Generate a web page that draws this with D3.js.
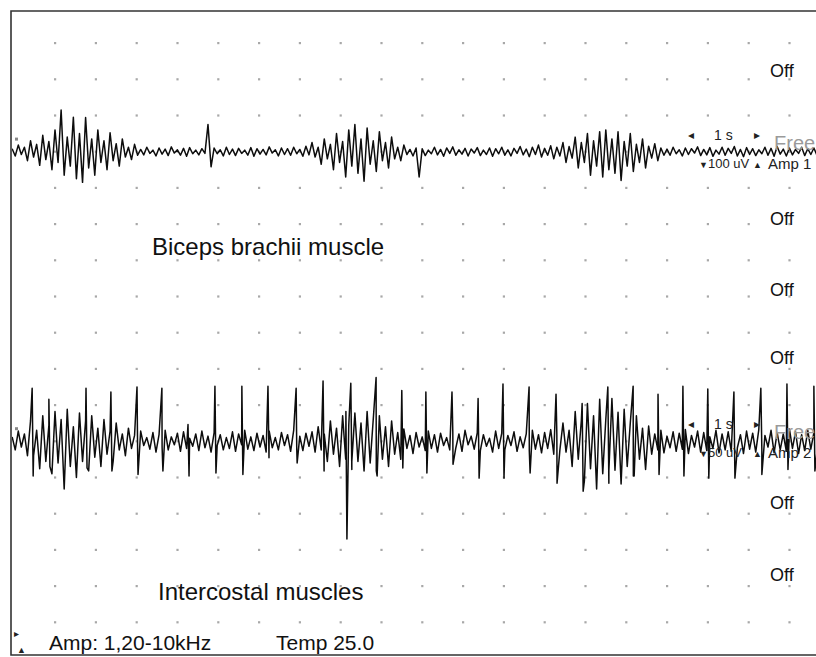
<!DOCTYPE html>
<html>
<head>
<meta charset="utf-8">
<script src="https://cdn.jsdelivr.net/npm/d3@7"></script>
<style>
  body { margin: 0; background: #fff; }
  svg { display: block; font-family: "Liberation Sans", Arial, sans-serif; }
</style>
</head>
<body>
<div id="chart"></div>
<script>
// envelope arrays: one max and one min per bin, first bin at binStart (s)
const binStart = -0.05;
const binStep = 0.15;

// Biceps brachii channel, uV (100 uV/div)
const bicepsHigh = [8, 18, 12, 30, 20, 45, 28, 60, 115, 40, 95, 50, 94, 35, 60, 30, 52, 22, 35, 12, 20,
  6, 12, 4, 10, 7, 13, 5, 9, 11, 4, 8, 75,
  10, 5, 12, 7, 9, 4, 11, 8, 6, 13, 5, 10, 8, 12, 6, 15,
  25, 12, 35, 20, 50, 28, 60, 75, 35, 65, 30, 55, 25, 40, 12, 18, 6, 10,
  8, 4, 12, 6, 10, 13, 5, 9, 7, 11, 4, 10, 8, 12, 5, 9, 14, 7, 12, 18, 9, 16, 12,
  25, 14, 40, 25, 50, 30, 55, 60, 35, 55, 28, 50, 20, 35, 15, 22, 10,
  7, 12, 5, 10, 8, 13, 6, 11, 4, 12, 9, 14, 6, 11, 8, 5, 12, 9, 14, 7, 10, 6, 12, 8, 10];
const bicepsLow = [-12, -8, -25, -15, -38, -22, -50, -30, -65, -40, -75, -85, -45, -65, -30, -50, -25, -40, -15, -22, -10,
  -9, -5, -12, -7, -11, -4, -10, -13, -6, -9, -5, -42,
  -6, -12, -8, -11, -5, -10, -13, -7, -9, -4, -12, -8, -10, -6, -13, -9,
  -15, -35, -20, -50, -30, -70, -40, -60, -82, -35, -55, -25, -45, -20, -25, -8, -12, -70,
  -11, -6, -9, -13, -5, -10, -7, -12, -4, -11, -8, -13, -6, -10, -12, -5, -9, -14, -8, -15, -10, -20, -12,
  -30, -18, -45, -30, -65, -40, -70, -50, -60, -80, -40, -55, -30, -45, -18, -25, -10,
  -10, -6, -12, -8, -4, -11, -9, -13, -7, -10, -5, -12, -14, -8, -11, -6, -10, -13, -7, -12, -9, -5, -11, -8, -10];

// Intercostal channel, uV (50 uV/div)
const intercostalHigh = [6, 14, 10,
  28, 15, 35, 22, 41, 30, 44, 20, 39, 28, 35, 18, 30, 14, 25, 10, 18,
  8, 14, 5, 12, 9, 15, 6, 11, 13, 4, 10, 14, 7, 12, 9, 5, 13, 10, 15, 6, 11, 8, 14, 5, 12, 9, 15, 7, 11, 13,
  20, 10, 28, 18, 35, 22, 39, 25, 41, 30, 35, 20, 28, 12, 17, 8,
  12, 6, 14, 9, 11, 5, 13, 10, 15, 7, 12, 9, 4, 14, 11, 8, 13, 6, 10, 15, 9, 12, 16, 10,
  25, 15, 41, 28, 52, 35, 58, 30, 59, 40, 44, 25, 35, 18, 21,
  10, 15, 7, 13, 11, 16, 8, 14, 12, 6, 15, 10, 13, 17, 9, 14, 11, 16, 8, 15, 12, 10, 17, 13, 9, 15, 12];
const intercostalLow = [-12, -8, -20,
  -20, -38, -28, -45, -30, -66, -35, -50, -28, -41, -22, -35, -18, -28, -12, -20, -10,
  -13, -6, -11, -15, -8, -12, -5, -14, -10, -7, -13, -9, -15, -6, -12, -10, -14, -5, -11, -13, -8, -15, -9, -12, -6, -14, -10, -13, -7, -15,
  -12, -28, -18, -35, -25, -39, -28, -41, -30, -41, -25, -35, -18, -25, -10, -17,
  -8, -13, -10, -15, -6, -12, -9, -14, -5, -11, -13, -7, -15, -10, -12, -6, -14, -9, -13, -11, -16, -10, -18, -12,
  -15, -35, -25, -55, -38, -66, -45, -58, -40, -59, -35, -48, -25, -39, -18,
  -12, -16, -9, -14, -11, -17, -8, -15, -13, -10, -16, -12, -14, -9, -17, -11, -15, -13, -8, -16, -12, -14, -10, -17, -13, -11, -15];

// heart beat artefacts on the intercostal channel
const ecgTimes = [0.44, 0.85, 1.76, 2.37, 3.01, 3.62, 4.26, 4.92, 5.58, 6.22, 6.91, 7.57, 8.13, 8.25, 8.87, 9.50,
  10.09, 10.73, 11.37, 11.98, 12.62, 13.28, 13.92, 14.55, 15.17, 15.78, 16.39, 17.00, 17.64, 18.30, 18.94, 19.60];
const ecgUp = [73, 58, 73, 68, 75, 73, 23, 76, 76, 76, 73, 83, 41, 80, 88, 70,
  68, 68, 59, 79, 75, 65, 52, 75, 76, 65, 76, 72, 68, 73, 79, 76];
const ecgDown = [-48, -35, -37, -41, -46, -41, -48, -44, -46, -23, -30, -41, -135, -28, -48, -37,
  -44, -32, -51, -51, -44, -58, -69, -41, -48, -46, -48, -51, -51, -46, -39, -41];

// grid: 1 s per column, 16 rows
const gridSeconds = d3.range(1, 20);
const gridRows = d3.range(0, 17);

// channel slots that are switched off (row position of label)
const offRows = [0.77, 4.86, 6.82, 8.7, 12.7, 14.7];

const width = 816;
const height = 657;

const svg = d3.select("#chart").append("svg")
    .attr("width", width)
    .attr("height", height);

const x = d3.scaleLinear().domain([0, 19]).range([14.2, 789.4]);
const row = d3.scaleLinear().domain([0, 16]).range([43, 622.2]);
const y1 = d3.scaleLinear().domain([-100, 100]).range([row(4), row(2)]);
const y2 = d3.scaleLinear().domain([-50, 50]).range([row(12), row(10)]);

svg.append("clipPath").attr("id", "screen")
  .append("rect").attr("x", 12).attr("y", 12).attr("width", width - 12).attr("height", 642);

// grid dots
const dots = [];
gridSeconds.forEach(s => gridRows.forEach(r => dots.push([s, r])));
svg.append("g").selectAll("rect")
  .data(dots)
  .enter().append("rect")
    .attr("x", d => x(d[0]) - 1)
    .attr("y", d => row(d[1]) - 1)
    .attr("width", 2.2)
    .attr("height", 2.2)
    .attr("fill", "#a8a8a8");

// frame
svg.append("path")
    .attr("d", `M${width},11 H11 V655 H${width}`)
    .attr("fill", "none")
    .attr("stroke", "#333")
    .attr("stroke-width", 1.6);

function tracePoints(high, low, spikes) {
  let pts = [];
  high.forEach((h, i) => {
    const t = binStart + i * binStep;
    pts.push([t, h]);
    pts.push([t + binStep / 2, low[i]]);
  });
  if (spikes) {
    spikes.forEach(s => {
      pts.push([s.t, s.up]);
      pts.push([s.t + 0.025, s.down]);
    });
    pts.sort((a, b) => a[0] - b[0]);
  }
  return pts;
}

const spikes = ecgTimes.map((t, i) => ({t: t, up: ecgUp[i], down: ecgDown[i]}));

const traces = svg.append("g").attr("clip-path", "url(#screen)");

traces.append("path")
    .datum(tracePoints(bicepsHigh, bicepsLow))
    .attr("fill", "none")
    .attr("stroke", "#0d0d0d")
    .attr("stroke-width", 1.5)
    .attr("stroke-linejoin", "round")
    .attr("d", d3.line().x(d => x(d[0])).y(d => y1(d[1])));

traces.append("path")
    .datum(tracePoints(intercostalHigh, intercostalLow, spikes))
    .attr("fill", "none")
    .attr("stroke", "#0d0d0d")
    .attr("stroke-width", 1.5)
    .attr("stroke-linejoin", "round")
    .attr("d", d3.line().x(d => x(d[0])).y(d => y2(d[1])));

// channel ground markers
[3, 11].forEach(r => {
  svg.append("rect")
    .attr("x", 15).attr("y", row(r) - 14)
    .attr("width", 3).attr("height", 3)
    .attr("fill", "#888");
});

// Off labels
svg.append("g").selectAll("text")
  .data(offRows)
  .enter().append("text")
    .attr("x", 770)
    .attr("y", d => row(d) + 6)
    .attr("font-size", 18)
    .attr("fill", "#111")
    .text("Off");

// channel settings next to each active trace
function channelInfo(baseRow, scaleText, ampText) {
  const yb = row(baseRow);
  const g = svg.append("g");
  g.append("text").attr("x", 688).attr("y", yb - 13).attr("font-size", 12).attr("fill", "#222").text("\u25C2");
  g.append("text").attr("x", 714).attr("y", yb - 12).attr("font-size", 14).attr("fill", "#222").text("1 s");
  g.append("text").attr("x", 754).attr("y", yb - 13).attr("font-size", 12).attr("fill", "#222").text("\u25B8");
  g.append("text").attr("x", 774).attr("y", yb - 2).attr("font-size", 20).attr("fill", "#9a9a9a").text("Free");
  g.append("text").attr("x", 699).attr("y", yb + 16).attr("font-size", 9).attr("fill", "#222").text("\u25BC");
  g.append("text").attr("x", 708).attr("y", yb + 16).attr("font-size", 13).attr("fill", "#222").text(scaleText);
  g.append("text").attr("x", 753).attr("y", yb + 16).attr("font-size", 9).attr("fill", "#222").text("\u25B2");
  g.append("text").attr("x", 768).attr("y", yb + 17).attr("font-size", 15).attr("fill", "#222").text(ampText);
}
channelInfo(3, "100 uV", "Amp 1");
channelInfo(11, "50 uV", "Amp 2");

// muscle names
svg.append("text").attr("x", 152).attr("y", 255).attr("font-size", 24).attr("fill", "#111")
  .text("Biceps brachii muscle");
svg.append("text").attr("x", 158).attr("y", 600).attr("font-size", 24).attr("fill", "#111")
  .text("Intercostal muscles");

// footer
svg.append("text").attr("x", 49).attr("y", 650).attr("font-size", 21).attr("fill", "#111")
  .text("Amp: 1,20-10kHz");
svg.append("text").attr("x", 276).attr("y", 650).attr("font-size", 21).attr("fill", "#111")
  .text("Temp 25.0");
svg.append("text").attr("x", 14).attr("y", 637).attr("font-size", 10).attr("fill", "#222").text("\u25B8");
svg.append("text").attr("x", 17).attr("y", 653).attr("font-size", 9).attr("fill", "#222").text("\u25B2");
</script>
</body>
</html>
